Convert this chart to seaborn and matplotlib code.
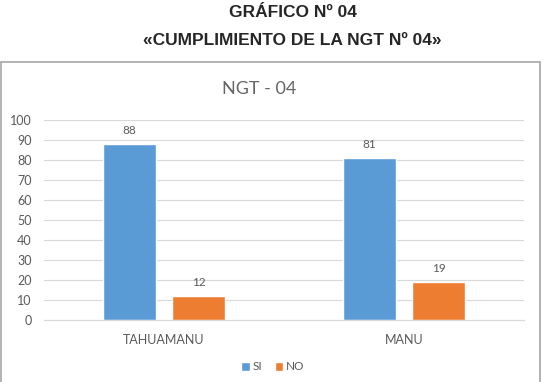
import pandas as pd
import seaborn as sns
import matplotlib.pyplot as plt
from matplotlib.patches import Rectangle

# datos del grafico
provincias = ["TAHUAMANU", "MANU"]
respuestas = ["SI", "NO"]
valores_si = [88, 81]
valores_no = [12, 19]

df = pd.DataFrame({
    "provincia": provincias * 2,
    "respuesta": ["SI"] * len(provincias) + ["NO"] * len(provincias),
    "valor": valores_si + valores_no,
})

sns.set_style("white")
plt.rcParams["font.family"] = ["Lato", "DejaVu Sans"]

gris = "#595959"
colores = {"SI": "#5B9BD5", "NO": "#ED7D31"}

fig = plt.figure(figsize=(5.46, 3.82), dpi=100)

# encabezados
fig.text(0.537, 0.968, "GRÁFICO Nº 04", ha="center", va="center",
         fontsize=12.5, fontweight="bold", family="Liberation Sans")
fig.text(0.535, 0.893, "«CUMPLIMIENTO DE LA NGT Nº 04»", ha="center", va="center",
         fontsize=12.5, fontweight="bold", family="Liberation Sans")

# marco del grafico
fig.patches.append(Rectangle((1 / 546, -0.05), 539 / 546, 1.05 - 62 / 382,
                             transform=fig.transFigure, fill=False,
                             edgecolor="#A6A6A6", linewidth=1.2))

ax = fig.add_axes([44 / 546, 62 / 382, 480 / 546, 200 / 382])
sns.barplot(data=df, x="provincia", y="valor", hue="respuesta",
            hue_order=respuestas, palette=colores, width=0.575, gap=0.22,
            saturation=1, ax=ax, legend=True)

for c in ax.containers:
    ax.bar_label(c, padding=6, color=gris, fontsize=8.5)

ax.set_ylim(0, 100)
ax.set_xlim(-0.5, 1.5)
ax.set_yticks(range(0, 101, 10))
ax.yaxis.grid(True, color="#D9D9D9", linewidth=0.8)
ax.set_axisbelow(True)
for s in ["top", "right", "left"]:
    ax.spines[s].set_visible(False)
ax.spines["bottom"].set_color("#D9D9D9")
ax.tick_params(axis="both", colors=gris, labelsize=9, length=0)
ax.tick_params(axis="x", pad=10)
ax.tick_params(axis="y", pad=9)
ax.set_xlabel("")
ax.set_ylabel("")

# titulo del grafico
fig.text(259 / 546, 1 - 89 / 382, "NGT - 04", ha="center", va="center",
         color="#666666", fontsize=13)

ax.legend(loc="center", bbox_to_anchor=(273 / 546, 15 / 382),
          bbox_transform=fig.transFigure, ncol=2, frameon=False,
          fontsize=8.5, labelcolor=gris, handlelength=0.7, handleheight=0.7,
          handletextpad=0.3, columnspacing=1.0)

fig.savefig("out.png", dpi=100)
